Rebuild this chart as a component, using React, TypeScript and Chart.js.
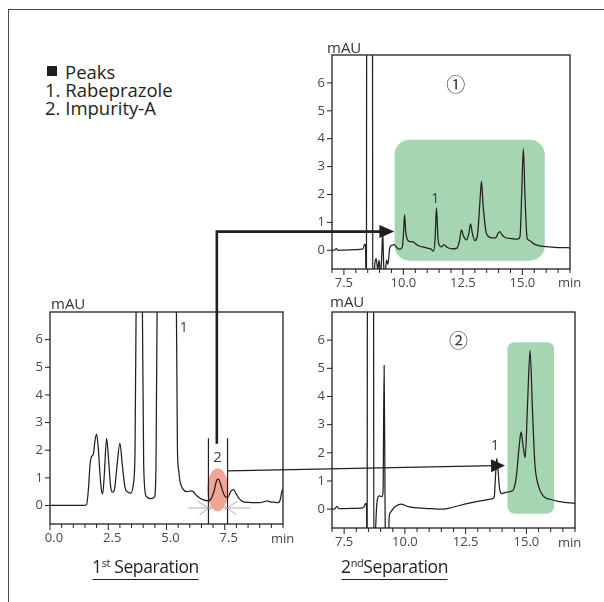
import React, { useEffect, useRef } from 'react';
import { Chart, registerables } from 'chart.js';

Chart.register(...registerables);

// ---------------- data ----------------
// 1st separation (bottom-left)
const firstSepTime = [
  0, 1.0, 1.45, 1.57, 1.65, 1.72, 1.79, 1.86, 1.93, 2.0, 2.07, 2.14, 2.2, 2.26, 2.33, 2.43, 2.52, 2.6, 2.68,
  2.76, 2.86, 3.0, 3.1, 3.22, 3.35, 3.47, 3.58, 3.65, 3.71, 3.83, 3.95, 4.02, 4.12, 4.3, 4.48, 4.55, 4.61,
  5.0, 5.41, 5.47, 5.52, 5.58, 5.7, 5.87, 6.05, 6.15, 6.3, 6.59, 6.8, 6.95, 7.05, 7.14, 7.23, 7.33, 7.44,
  7.55, 7.64, 7.75, 7.87, 7.97, 8.1, 8.3, 8.5, 8.8, 9.0, 9.2, 9.31, 9.45, 9.6, 9.78, 9.88, 9.95, 10.0,
];
const firstSepSignal = [
  0, 0, 0, 0.03, 0.6, 1.5, 1.78, 1.85, 2.35, 2.58, 2.1, 1.2, 0.6, 0.42, 1.1, 2.43, 1.6, 0.7, 0.48,
  0.55, 1.3, 2.25, 1.5, 0.65, 0.48, 0.45, 0.8, 2.0, 9, 18, 9, 1.5, 0.35, 0.25, 0.3, 1.5, 9,
  30, 9, 2.0, 1.29, 0.87, 0.6, 0.5, 0.53, 0.5, 0.35, 0.2, 0.17, 0.3, 0.55, 0.88, 0.95, 0.75, 0.45,
  0.3, 0.3, 0.5, 0.57, 0.45, 0.27, 0.13, 0.11, 0.1, 0.1, 0.14, 0.17, 0.13, 0.12, 0.1, 0.2, 0.5, 0.6,
];

// 2nd separation, chromatogram ① (top-right)
const sepOneTime = [
  7.0, 7.1, 7.18, 7.25, 7.5, 8.0, 8.3, 8.37, 8.41, 8.445, 8.46, 8.58, 8.695, 8.715, 8.78, 8.86, 8.92, 8.98,
  9.04, 9.09, 9.13, 9.17, 9.22, 9.29, 9.35, 9.43, 9.52, 9.62, 9.72, 9.83, 9.95, 10.0, 10.05, 10.1, 10.17,
  10.25, 10.4, 10.6, 10.8, 11.0, 11.15, 11.27, 11.33, 11.39, 11.45, 11.52, 11.6, 11.7, 11.85, 12.05, 12.25,
  12.36, 12.44, 12.53, 12.65, 12.75, 12.82, 12.9, 13.0, 13.12, 13.22, 13.28, 13.35, 13.49, 13.7, 13.88,
  13.97, 14.05, 14.15, 14.3, 14.55, 14.8, 14.9, 14.97, 15.04, 15.11, 15.2, 15.3, 15.5, 15.8, 16.0, 16.5, 17.0,
];
const sepOneSignal = [
  0.02, 0, 0.06, 0, 0.01, 0.02, 0.05, 0.22, 0.15, -3, 12, 14, 12, -3, -0.8, -0.3, -0.7, -0.35,
  -0.9, -0.2, 0.7, -0.5, -1.0, -0.35, -0.5, 0.1, 0.18, 0.2, 0.1, 0.04, 0.1, 0.55, 1.28, 0.65, 0.38,
  0.32, 0.3, 0.18, 0.12, 0.08, 0.05, -0.03, 0.4, 1.52, 0.45, 0.17, 0.12, 0.2, 0.1, 0.05, 0.08,
  0.35, 0.73, 0.5, 0.37, 0.6, 0.95, 0.6, 0.35, 0.6, 1.8, 2.47, 1.6, 0.6, 0.45, 0.45,
  0.6, 0.67, 0.55, 0.45, 0.42, 0.4, 0.5, 2.0, 3.64, 1.9, 0.42, 0.35, 0.22, 0.15, 0.13, 0.1, 0.09,
];

// 2nd separation, chromatogram ② (bottom-right)
const sepTwoTime = [
  7.0, 7.1, 7.2, 7.28, 7.5, 8.0, 8.3, 8.38, 8.42, 8.445, 8.46, 8.58, 8.705, 8.725, 8.8, 8.86, 8.95, 9.05,
  9.1, 9.145, 9.185, 9.22, 9.31, 9.35, 9.42, 9.5, 9.62, 9.84, 10.1, 10.4, 10.83, 11.38, 11.8, 12.2, 12.75,
  13.3, 13.6, 13.68, 13.73, 13.78, 13.84, 13.9, 13.98, 14.18, 14.45, 14.58, 14.7, 14.78, 14.87, 14.95,
  15.05, 15.15, 15.25, 15.35, 15.49, 15.69, 15.97, 16.38, 17.0,
];
const sepTwoSignal = [
  0.02, 0, 0.1, 0.02, 0.02, 0.03, 0.05, 0.2, 0.1, -3, 12, 14, 12, -3, -0.6, 0.3, 0.47, 0.44,
  0.6, 5.1, 0, -3, -3, -0.3, -0.1, 0, 0.1, 0.18, 0.1, 0.05, 0.03, 0, 0.03, 0.12, 0.23,
  0.32, 0.37, 0.45, 1.2, 1.8, 1.3, 0.7, 0.55, 0.6, 0.67, 1.12, 2.2, 2.74, 2.2, 1.83,
  3.8, 5.64, 3.5, 1.6, 0.84, 0.47, 0.35, 0.27, 0.2,
];

const yTickValues = [0, 1, 2, 3, 4, 5, 6];
const firstSepXLabels = [0, 2.5, 5, 7.5];
const secondSepXLabels = [7.5, 10, 12.5, 15];
const legendTitle = 'Peaks';
const legendItems = ['1. Rabeprazole', '2. Impurity-A'];

// annotation anchors (in data units)
const heartCutWindow = [6.8, 7.62];
const impurityPeak = { t: 7.2, v: 0.57, rt: 0.45, rv: 0.78 };
const greenBoxOne = { t0: 9.63, t1: 15.94, v0: -0.37, v1: 3.96 };
const greenBoxTwo = { t0: 14.22, t1: 16.14, v0: -0.16, v1: 5.93 };

const INK = '#231f20';
const TICK_TEXT = '#474747';
const FONT = "'Open Sans', 'Noto Sans', sans-serif";

const TOP_POS = { left: 290, top: 30, width: 310, height: 280 };
const FIRST_POS = { left: 10, top: 290, width: 290, height: 260 };
const SECOND_POS = { left: 290, top: 290, width: 314, height: 260 };

type Cfg = {
  time: number[];
  signal: number[];
  xMin: number;
  xMax: number;
  xLabels: number[];
  labelOffset: number;
  padding: { left: number; right: number; top: number; bottom: number };
  yWidth: number;
  xHeight: number;
  mauDx: number;
  mauDy: number;
  minDx: number;
  minDy: number;
  underlay?: (chart: any, ctx: CanvasRenderingContext2D) => void;
  overlay?: (chart: any, ctx: CanvasRenderingContext2D) => void;
};

function roundRect(ctx: CanvasRenderingContext2D, x: number, y: number, w: number, h: number, r: number) {
  ctx.beginPath();
  ctx.moveTo(x + r, y);
  ctx.lineTo(x + w - r, y);
  ctx.arcTo(x + w, y, x + w, y + r, r);
  ctx.lineTo(x + w, y + h - r);
  ctx.arcTo(x + w, y + h, x + w - r, y + h, r);
  ctx.lineTo(x + r, y + h);
  ctx.arcTo(x, y + h, x, y + h - r, r);
  ctx.lineTo(x, y + r);
  ctx.arcTo(x, y, x + r, y, r);
  ctx.closePath();
}

function greenBox(chart: any, ctx: CanvasRenderingContext2D, b: any, r: number) {
  const xs = chart.scales.x;
  const ys = chart.scales.y;
  const x0 = xs.getPixelForValue(b.t0);
  const x1 = xs.getPixelForValue(b.t1);
  const y0 = ys.getPixelForValue(b.v1);
  const y1 = ys.getPixelForValue(b.v0);
  ctx.save();
  ctx.fillStyle = '#a6d5b1';
  roundRect(ctx, x0, y0, x1 - x0, y1 - y0, r);
  ctx.fill();
  ctx.restore();
}

function textAt(chart: any, ctx: CanvasRenderingContext2D, s: string, t: number, v: number, font: string) {
  ctx.save();
  ctx.fillStyle = '#3a3a3a';
  ctx.font = font;
  ctx.textAlign = 'center';
  ctx.textBaseline = 'middle';
  ctx.fillText(s, chart.scales.x.getPixelForValue(t), chart.scales.y.getPixelForValue(v));
  ctx.restore();
}

function makeConfig(c: Cfg): any {
  const plugin = {
    id: 'frame',
    beforeDatasetsDraw(chart: any) {
      if (c.underlay) c.underlay(chart, chart.ctx);
    },
    afterDatasetsDraw(chart: any) {
      const { ctx, chartArea: a, scales } = chart;
      ctx.save();
      ctx.strokeStyle = INK;
      ctx.lineWidth = 1.3;
      ctx.strokeRect(a.left, a.top, a.right - a.left, a.bottom - a.top);
      ctx.lineWidth = 1;
      ctx.beginPath();
      for (const tk of scales.x.ticks) {
        const p = scales.x.getPixelForValue(tk.value);
        const major = c.xLabels.includes(tk.value);
        ctx.moveTo(p, a.bottom);
        ctx.lineTo(p, a.bottom + (major ? 6 : 4));
      }
      for (const tk of scales.y.ticks) {
        const p = scales.y.getPixelForValue(tk.value);
        ctx.moveTo(a.left, p);
        ctx.lineTo(a.left - 5, p);
      }
      ctx.stroke();
      ctx.fillStyle = '#333';
      ctx.font = `15px ${FONT}`;
      ctx.textAlign = 'left';
      ctx.textBaseline = 'alphabetic';
      ctx.fillText('mAU', a.left + c.mauDx, a.top + c.mauDy);
      ctx.font = `13px ${FONT}`;
      ctx.fillStyle = TICK_TEXT;
      ctx.textBaseline = 'middle';
      ctx.fillText('min', a.right + c.minDx, a.bottom + c.minDy);
      ctx.restore();
      if (c.overlay) c.overlay(chart, ctx);
    },
  };
  return {
    type: 'line',
    data: {
      datasets: [
        {
          data: c.time.map((t, i) => ({ x: t, y: c.signal[i] })),
          borderColor: INK,
          borderWidth: 1.25,
          pointRadius: 0,
          fill: false,
          cubicInterpolationMode: 'monotone',
        },
      ],
    },
    options: {
      responsive: false,
      animation: false,
      events: [],
      layout: { padding: c.padding },
      plugins: { legend: { display: false }, tooltip: { enabled: false } },
      scales: {
        x: {
          type: 'linear',
          min: c.xMin,
          max: c.xMax,
          afterBuildTicks: (s: any) => {
            const arr: any[] = [];
            for (let k = Math.ceil(c.xMin * 2); k <= Math.floor(c.xMax * 2); k++) arr.push({ value: k / 2 });
            s.ticks = arr;
          },
          afterFit: (s: any) => {
            s.height = c.xHeight;
          },
          grid: { display: false, drawTicks: false },
          border: { display: false },
          ticks: {
            autoSkip: false,
            maxRotation: 0,
            padding: 6,
            labelOffset: c.labelOffset,
            color: TICK_TEXT,
            font: { family: FONT, size: 13 },
            callback: (v: number) => (c.xLabels.includes(v) ? v.toFixed(1) : ''),
          },
        },
        y: {
          type: 'linear',
          min: -0.67,
          max: 7.0,
          afterBuildTicks: (s: any) => {
            s.ticks = yTickValues.map((value) => ({ value }));
          },
          afterFit: (s: any) => {
            s.width = c.yWidth;
          },
          grid: { display: false, drawTicks: false },
          border: { display: false },
          ticks: {
            autoSkip: false,
            padding: 7,
            color: TICK_TEXT,
            font: { family: FONT, size: 13 },
            callback: (v: number) => String(v),
          },
        },
      },
    },
    plugins: [plugin],
  };
}

function arrowHead(ctx: CanvasRenderingContext2D, x: number, y: number, ang: number, len: number, half: number) {
  const bx = x - Math.cos(ang) * len;
  const by = y - Math.sin(ang) * len;
  const nx = -Math.sin(ang);
  const ny = Math.cos(ang);
  ctx.beginPath();
  ctx.moveTo(x, y);
  ctx.lineTo(bx + nx * half, by + ny * half);
  ctx.lineTo(bx - nx * half, by - ny * half);
  ctx.closePath();
  ctx.fill();
}

export default function App() {
  const topRef = useRef<HTMLCanvasElement>(null);
  const firstRef = useRef<HTMLCanvasElement>(null);
  const secondRef = useRef<HTMLCanvasElement>(null);
  const overlayRef = useRef<HTMLCanvasElement>(null);

  useEffect(() => {
    const topChart = new Chart(
      topRef.current as HTMLCanvasElement,
      makeConfig({
        time: sepOneTime,
        signal: sepOneSignal,
        xMin: 7,
        xMax: 17,
        xLabels: secondSepXLabels,
        labelOffset: 0,
        padding: { left: 0, right: 30, top: 25, bottom: 0 },
        yWidth: 42,
        xHeight: 41,
        mauDx: -5,
        mauDy: -2,
        minDx: -12,
        minDy: 14,
        underlay: (ch, ctx) => greenBox(ch, ctx, greenBoxOne, 15),
        overlay: (ch, ctx) => {
          textAt(ch, ctx, '1', 11.34, 1.84, `14px ${FONT}`);
          textAt(ch, ctx, '①', 12.2, 5.95, `19px 'Noto Sans CJK JP', sans-serif`);
        },
      })
    );
    const firstChart = new Chart(
      firstRef.current as HTMLCanvasElement,
      makeConfig({
        time: firstSepTime,
        signal: firstSepSignal,
        xMin: 0,
        xMax: 10,
        xLabels: firstSepXLabels,
        labelOffset: 4,
        padding: { left: 0, right: 17, top: 22, bottom: 0 },
        yWidth: 40,
        xHeight: 26,
        mauDx: 1,
        mauDy: -3,
        minDx: -12,
        minDy: 15,
        underlay: (ch, ctx) => {
          const xs = ch.scales.x;
          const ys = ch.scales.y;
          const cx = xs.getPixelForValue(impurityPeak.t);
          const cy = ys.getPixelForValue(impurityPeak.v);
          const rx = Math.abs(xs.getPixelForValue(impurityPeak.t + impurityPeak.rt) - cx);
          const ry = Math.abs(ys.getPixelForValue(impurityPeak.v + impurityPeak.rv) - cy);
          ctx.save();
          ctx.fillStyle = '#f2a497';
          ctx.beginPath();
          ctx.ellipse(cx, cy, rx, ry, 0, 0, Math.PI * 2);
          ctx.fill();
          ctx.restore();
        },
        overlay: (ch, ctx) => {
          const xs = ch.scales.x;
          const ys = ch.scales.y;
          const a = ch.chartArea;
          ctx.save();
          // heart-cut window lines
          ctx.strokeStyle = INK;
          ctx.lineWidth = 1.2;
          ctx.beginPath();
          for (const t of heartCutWindow) {
            const p = xs.getPixelForValue(t);
            ctx.moveTo(p, ys.getPixelForValue(2.43));
            ctx.lineTo(p, a.bottom);
          }
          ctx.stroke();
          // baseline stars
          ctx.strokeStyle = '#9a9a9a';
          ctx.lineWidth = 0.8;
          ctx.beginPath();
          const yb = ys.getPixelForValue(-0.09);
          const l = xs.getPixelForValue(heartCutWindow[0]);
          const r = xs.getPixelForValue(heartCutWindow[1]);
          ctx.moveTo(l - 20, yb); ctx.lineTo(l + 4, yb);
          ctx.moveTo(l - 11, yb - 7); ctx.lineTo(l + 3, yb + 2);
          ctx.moveTo(l - 9, yb + 7); ctx.lineTo(l + 3, yb - 2);
          ctx.moveTo(r - 4, yb); ctx.lineTo(r + 23, yb);
          ctx.moveTo(r + 10, yb - 7); ctx.lineTo(r - 3, yb + 2);
          ctx.moveTo(r + 9, yb + 7); ctx.lineTo(r - 3, yb - 2);
          ctx.stroke();
          ctx.restore();
          textAt(ch, ctx, '2', 7.19, 1.72, `15px ${FONT}`);
          textAt(ch, ctx, '1', 5.74, 6.41, `14px ${FONT}`);
        },
      })
    );
    const secondChart = new Chart(
      secondRef.current as HTMLCanvasElement,
      makeConfig({
        time: sepTwoTime,
        signal: sepTwoSignal,
        xMin: 7,
        xMax: 17,
        xLabels: secondSepXLabels,
        labelOffset: 0,
        padding: { left: 0, right: 29, top: 22, bottom: 0 },
        yWidth: 42,
        xHeight: 22,
        mauDx: -2,
        mauDy: -5,
        minDx: -17,
        minDy: 15,
        underlay: (ch, ctx) => greenBox(ch, ctx, greenBoxTwo, 7),
        overlay: (ch, ctx) => {
          textAt(ch, ctx, '1', 13.71, 2.24, `14px ${FONT}`);
          textAt(ch, ctx, '②', 12.21, 5.99, `19px 'Noto Sans CJK JP', sans-serif`);
        },
      })
    );

    // cross-chart arrows
    const cv = overlayRef.current as HTMLCanvasElement;
    const ctx = cv.getContext('2d') as CanvasRenderingContext2D;
    ctx.clearRect(0, 0, cv.width, cv.height);
    const px = (ch: any, pos: any, t: number) => pos.left + ch.scales.x.getPixelForValue(t);
    const py = (ch: any, pos: any, v: number) => pos.top + ch.scales.y.getPixelForValue(v);
    ctx.strokeStyle = INK;
    ctx.fillStyle = INK;
    // thick arrow: impurity peak -> chromatogram ①
    const x0 = px(firstChart, FIRST_POS, 7.16);
    const y0 = py(firstChart, FIRST_POS, 2.23);
    const yH = py(topChart, TOP_POS, 0.67);
    const xT = px(topChart, TOP_POS, 9.62);
    ctx.lineWidth = 2.6;
    ctx.lineJoin = 'miter';
    ctx.beginPath();
    ctx.moveTo(x0, y0);
    ctx.lineTo(x0, yH);
    ctx.lineTo(xT - 12, yH);
    ctx.stroke();
    arrowHead(ctx, xT, yH, 0, 15, 6.5);
    // thin arrow: window -> chromatogram ②
    const sx = px(firstChart, FIRST_POS, 7.63);
    const sy = py(firstChart, FIRST_POS, 1.25);
    const ex = px(secondChart, SECOND_POS, 14.12);
    const ey = py(secondChart, SECOND_POS, 1.55);
    const ang = Math.atan2(ey - sy, ex - sx);
    ctx.lineWidth = 1.2;
    ctx.beginPath();
    ctx.moveTo(sx, sy);
    ctx.lineTo(ex - Math.cos(ang) * 10, ey - Math.sin(ang) * 10);
    ctx.stroke();
    arrowHead(ctx, ex, ey, ang, 14, 6.5);

    return () => {
      topChart.destroy();
      firstChart.destroy();
      secondChart.destroy();
    };
  }, []);

  const canvasStyle = (p: any): React.CSSProperties => ({
    position: 'absolute',
    left: p.left,
    top: p.top,
    width: p.width,
    height: p.height,
  });

  const txt: React.CSSProperties = {
    position: 'absolute',
    fontFamily: FONT,
    color: INK,
    whiteSpace: 'nowrap',
    lineHeight: '18px',
  };

  return (
    <div style={{ position: 'absolute', left: 0, top: 0, width: 604, height: 602, overflow: 'hidden', background: '#fff' }}>
      <div style={{ position: 'absolute', left: 8, top: 8.5, width: 596, height: 1.6, background: '#4a4a4a' }} />
      <div style={{ position: 'absolute', left: 7.5, top: 8.5, width: 1.6, height: 594, background: '#4a4a4a' }} />

      <div style={{ position: 'absolute', left: 47, top: 66, width: 10, height: 10, background: INK }} />
      <div style={{ ...txt, left: 65, top: 63, fontSize: 18.5 }}>{legendTitle}</div>
      <div style={{ ...txt, left: 45, top: 81, fontSize: 18.5 }}>{legendItems[0]}</div>
      <div style={{ ...txt, left: 45, top: 99, fontSize: 18.5 }}>{legendItems[1]}</div>

      <canvas ref={firstRef} width={FIRST_POS.width} height={FIRST_POS.height} style={canvasStyle(FIRST_POS)} />
      <canvas ref={secondRef} width={SECOND_POS.width} height={SECOND_POS.height} style={canvasStyle(SECOND_POS)} />
      <canvas ref={topRef} width={TOP_POS.width} height={TOP_POS.height} style={canvasStyle(TOP_POS)} />
      <canvas
        ref={overlayRef}
        width={604}
        height={602}
        style={{ position: 'absolute', left: 0, top: 0, width: 604, height: 602, pointerEvents: 'none' }}
      />

      <div
        style={{
          ...txt,
          left: 145.5,
          top: 557,
          fontSize: 17.5,
          transform: 'translateX(-50%)',
          borderBottom: `1px solid ${INK}`,
          paddingBottom: 1,
          letterSpacing: '-0.4px',
        }}
      >
        1<span style={{ fontSize: 11, position: 'relative', top: -6 }}>st</span> Separation
      </div>
      <div
        style={{
          ...txt,
          left: 394.5,
          top: 557,
          fontSize: 17.5,
          transform: 'translateX(-50%)',
          borderBottom: `1px solid ${INK}`,
          paddingBottom: 1,
          letterSpacing: '-0.4px',
        }}
      >
        2<span style={{ fontSize: 11, position: 'relative', top: -6 }}>nd</span>Separation
      </div>
    </div>
  );
}
